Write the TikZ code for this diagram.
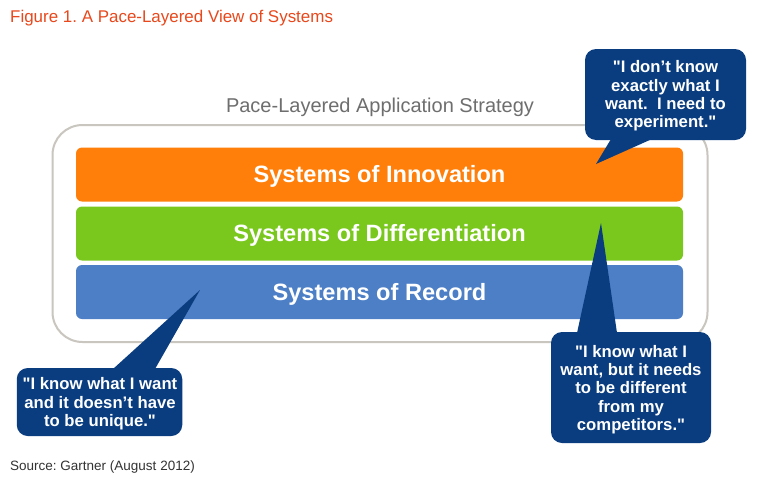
\documentclass[tikz,border=0pt]{standalone}
\usepackage{fontspec}
\setmainfont{Liberation Sans}[Ligatures=TeXOff]
\frenchspacing
\definecolor{navy}{HTML}{0A3D80}
\definecolor{layO}{HTML}{FF7F0A}
\definecolor{layG}{HTML}{7AC81E}
\definecolor{layB}{HTML}{4D7FC6}
\definecolor{frameC}{HTML}{C8C6BE}
\definecolor{titleC}{HTML}{E8481C}
\definecolor{headC}{HTML}{6E6E6E}
\tikzset{
  x=1pt,y=-1pt,
  layer/.style={fill=#1,rounded corners=6pt,minimum width=607pt,minimum height=54pt,inner sep=0pt},
  layertext/.style={text=white,font=\fontsize{23.6}{26}\selectfont\bfseries,inner sep=0pt},
  callout/.style={fill=navy,rounded corners=11pt,inner sep=0pt},
  callouttext/.style={inner sep=0pt,text=white,align=center,font=\fontsize{16.7}{18.4}\selectfont\bfseries},
  tail/.style={fill=navy,draw=none},
}
\begin{document}
\begin{tikzpicture}
\useasboundingbox (0,0) rectangle (757,485);
\fill[white] (0,0) rectangle (757,485);
\node[anchor=west,text=titleC,font=\fontsize{16.95}{18}\selectfont,inner sep=0pt] (title) at (10,18) {Figure 1. A Pace-Layered View of Systems};
\node[text=headC,font=\fontsize{20}{22}\selectfont,inner sep=0pt] (head) at (380,107) {Pace-Layered Application Strategy};
\node[draw=frameC,line width=2pt,rounded corners=30pt,minimum width=655pt,minimum height=217pt,inner sep=0pt] (frame) at (380,233.5) {};
\node[layer=layO] (innov) at (379.5,174.5) {};
\node[layer=layG] (diff) at (379.5,233.5) {};
\node[layer=layB] (rec) at (379.5,292) {};
\node[layertext] (innovt) at (379.5,176) {Systems of Innovation};
\node[layertext] (difft) at (379.5,235) {Systems of Differentiation};
\node[layertext] (rect) at (379.5,294) {Systems of Record};
\coordinate (t1) at (596,164);
\coordinate (t2) at (200,290);
\coordinate (t3) at (601,223);
\fill[tail] (611,139) -- (t1) -- (652,139) -- cycle;
\fill[tail] (113,369) -- (t2) -- (155,369) -- cycle;
\fill[tail] (577,333) -- (t3) -- (617,333) -- cycle;
\node[callout,minimum width=161pt,minimum height=91pt] (c1) at (665.5,94.5) {};
\node[callout,minimum width=165.5pt,minimum height=68pt] (c2) at (99.5,402) {};
\node[callout,minimum width=160pt,minimum height=111pt] (c3) at (631,387.5) {};
\node[callouttext] (c1t) at (665.5,96) {"I don’t know\\exactly what I\\want.\ \ I need to\\experiment."};
\node[callouttext] (c2t) at (100,404) {"I know what I want\\and it doesn’t have\\to be unique."};
\node[callouttext] (c3t) at (631,389.5) {"I know what I\\want, but it needs\\to be different\\from my\\competitors."};
\node[anchor=west,text=black!80,font=\fontsize{13.5}{15}\selectfont,inner sep=0pt] (src) at (10,467) {Source: Gartner (August 2012)};
\end{tikzpicture}
\end{document}
